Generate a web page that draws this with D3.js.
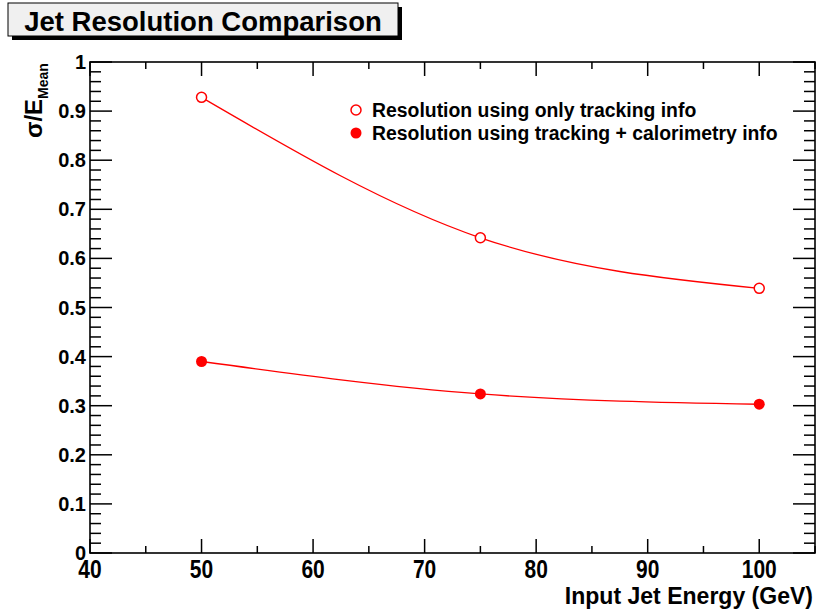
<!DOCTYPE html>
<html><head><meta charset="utf-8">
<script src="https://cdn.jsdelivr.net/npm/d3@7"></script>
<style>body{margin:0;background:#fff;} svg{display:block;} text{font-family:"Liberation Sans",Arial,sans-serif;font-weight:bold;}</style>
</head><body>
<svg id="c" width="817" height="611"></svg>
<script>
const energies = [50, 75, 100];
const trackingOnly = [0.928, 0.642, 0.539];
const trackingCalo = [0.390, 0.324, 0.303];
const seriesNames = ["Resolution using only tracking info", "Resolution using tracking + calorimetry info"];
const xTicks = [40, 50, 60, 70, 80, 90, 100];
const yTicks = [0, 0.1, 0.2, 0.3, 0.4, 0.5, 0.6, 0.7, 0.8, 0.9, 1];
const titleText = "Jet Resolution Comparison";
const xLabel = "Input Jet Energy (GeV)";

const svg = d3.select("#c");
const L = 90, R = 815, T = 62, B = 553;
const x = d3.scaleLinear().domain([40, 105]).range([L, R]);
const y = d3.scaleLinear().domain([0, 1]).range([B, T]);
const red = "#ff0000";

// title box with shadow
svg.append("rect").attr("x", 12).attr("y", 7).attr("width", 390).attr("height", 33).attr("fill", "#000");
svg.append("rect").attr("x", 8).attr("y", 3).attr("width", 390).attr("height", 33).attr("fill", "#f0f0f0").attr("stroke", "#000").attr("stroke-width", 1);
svg.append("text").attr("x", 203).attr("y", 31).attr("text-anchor", "middle").attr("font-size", 27.5).text(titleText);

// frame
svg.append("rect").attr("x", L).attr("y", T).attr("width", R - L).attr("height", B - T)
  .attr("fill", "none").attr("stroke", "#000").attr("stroke-width", 1.6);

const g = svg.append("g").attr("stroke", "#000").attr("stroke-width", 1.5);
// y ticks (left and right)
d3.range(0, 1.0001, 0.02).forEach(v => {
  const major = Math.abs(v * 10 - Math.round(v * 10)) < 1e-6;
  const len = major ? 22 : 11;
  g.append("line").attr("x1", L).attr("x2", L + len).attr("y1", y(v)).attr("y2", y(v));
  g.append("line").attr("x1", R).attr("x2", R - len).attr("y1", y(v)).attr("y2", y(v));
});
// x ticks (bottom and top)
d3.range(40, 105.001, 5).forEach(v => {
  const major = v % 10 === 0;
  const len = major ? 14 : 7;
  g.append("line").attr("x1", x(v)).attr("x2", x(v)).attr("y1", B).attr("y2", B - len);
  g.append("line").attr("x1", x(v)).attr("x2", x(v)).attr("y1", T).attr("y2", T + len);
});

// y tick labels
svg.selectAll(".yl").data(yTicks).enter().append("text")
  .attr("x", L - 4).attr("y", d => y(d) + 7).attr("text-anchor", "end").attr("font-size", 20)
  .text(d => d3.format("~g")(d));
// x tick labels
svg.selectAll(".xl").data(xTicks).enter().append("text")
  .attr("transform", d => `translate(${x(d)},${B + 25}) scale(0.84,1)`)
  .attr("text-anchor", "middle").attr("font-size", 25)
  .text(d => d);
// x label
svg.append("text").attr("transform", `translate(${R - 2},${B + 51}) scale(0.94,1)`)
  .attr("text-anchor", "end").attr("font-size", 24.5).text(xLabel);

// y label
const yl = svg.append("text").attr("transform", "translate(42,138) rotate(-90)").attr("font-size", 24);
yl.append("tspan").text("σ/E");
yl.append("tspan").attr("font-size", 14).attr("dy", 6).text("Mean");

// curves
const line = d3.line().x(d => x(d[0])).y(d => y(d[1])).curve(d3.curveNatural);
[trackingOnly, trackingCalo].forEach(vals => {
  svg.append("path").datum(energies.map((e, i) => [e, vals[i]])).attr("d", line)
    .attr("fill", "none").attr("stroke", red).attr("stroke-width", 1.3);
});
// markers
svg.selectAll(".mo").data(energies).enter().append("circle")
  .attr("cx", d => x(d)).attr("cy", (d, i) => y(trackingOnly[i])).attr("r", 5)
  .attr("fill", "#fff").attr("stroke", red).attr("stroke-width", 1.5);
svg.selectAll(".mf").data(energies).enter().append("circle")
  .attr("cx", d => x(d)).attr("cy", (d, i) => y(trackingCalo[i])).attr("r", 5.5)
  .attr("fill", red);

// legend
svg.append("circle").attr("cx", 356).attr("cy", 110).attr("r", 5).attr("fill", "#fff").attr("stroke", red).attr("stroke-width", 1.5);
svg.append("circle").attr("cx", 356).attr("cy", 133).attr("r", 5.5).attr("fill", red);
svg.append("text").attr("x", 372).attr("y", 117).attr("font-size", 19.4).text(seriesNames[0]);
svg.append("text").attr("x", 372).attr("y", 140).attr("font-size", 19.4).text(seriesNames[1]);
</script>
</body></html>
